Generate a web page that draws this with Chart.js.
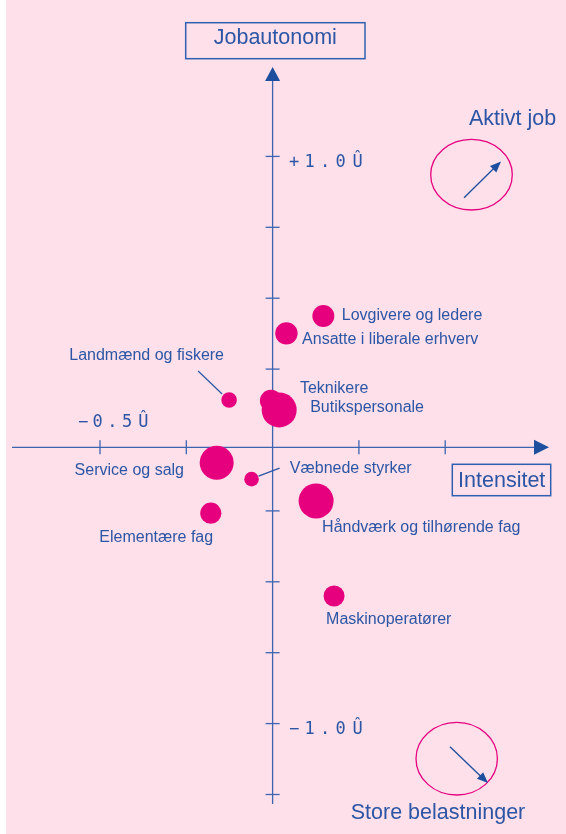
<!DOCTYPE html>
<html><head><meta charset="utf-8">
<script src="https://cdn.jsdelivr.net/npm/chart.js@4.4.1/dist/chart.umd.min.js"></script>
<style>html,body{margin:0;padding:0;background:#fde0ea;overflow:hidden}canvas{display:block}</style>
</head><body>
<canvas id="c" width="566" height="834"></canvas>
<script>
// ---- data ----
const categories = ['Lovgivere og ledere','Ansatte i liberale erhverv','Landmænd og fiskere','Teknikere','Butikspersonale','Service og salg','Væbnede styrker','Elementære fag','Håndværk og tilhørende fag','Maskinoperatører'];
const intensity  = [0.147, 0.040, -0.126, -0.005, 0.019, -0.162, -0.061, -0.179, 0.126, 0.178];
const autonomy   = [0.437, 0.376, 0.141, 0.138, 0.106, -0.080, -0.138, -0.258, -0.215, -0.550];
const bubbleSize = [11, 11.2, 7.8, 11, 17.5, 17, 7.3, 10.6, 17.5, 10.5];
const xTickValues = [-0.5, -0.25, 0.25, 0.5];
const yTickValues = [1.0, 0.75, 0.5, 0.25, -0.25, -0.5, -0.75, -1.0, -1.25];
const xTickLabelValues = [-0.5];
const xTickLabelTexts  = ['−0.5Û'];
const yTickLabelValues = [1.0, -1.0];
const yTickLabelTexts  = ['+1.0Û', '−1.0Û'];
const yAxisTitle = 'Jobautonomi';
const xAxisTitle = 'Intensitet';
const cornerTop = 'Aktivt job';
const cornerBottom = 'Store belastninger';

// ---- layout / style ----
const BG = '#fde0ea', BLUE = '#2c56a5', AXIS = '#3d65b0', ARROW = '#1d4f9e', MAG = '#e6007e';
const LABEL_FONT = '16px "Liberation Sans", Arial, sans-serif';
const TITLE_FONT = '21.5px "Liberation Sans", Arial, sans-serif';
const TICK_FONT = '17px "DejaVu Sans Mono", monospace';
const X_AXIS_AT = -0.026; // value on y where the horizontal axis is drawn
// label placement relative to bubble centre: [dx, dy, align]
const labelLayout = [[18.4,0,'left'],[15.7,6,'left'],[-5,-44,'right'],[29,-12,'left'],[31,-2,'left'],[-32.7,8,'right'],[38.3,-11,'left'],[2.3,24.5,'right'],[6,26.5,'left'],[-8,23.5,'left']];
const leaders = {2:[-31,-29,-7,-6], 6:[7,-3,28,-11]};

function arrowHead(ctx, x1, y1, x2, y2, len, half, color) {
  const a = Math.atan2(y2 - y1, x2 - x1);
  ctx.save();
  ctx.fillStyle = color;
  ctx.beginPath();
  ctx.moveTo(x2, y2);
  ctx.lineTo(x2 - len*Math.cos(a) + half*Math.sin(a), y2 - len*Math.sin(a) - half*Math.cos(a));
  ctx.lineTo(x2 - len*Math.cos(a) - half*Math.sin(a), y2 - len*Math.sin(a) + half*Math.cos(a));
  ctx.closePath();
  ctx.fill();
  ctx.restore();
}
function spacedText(ctx, text, x0, y, step) {
  ctx.textAlign = 'center';
  [...text].forEach((ch, i) => ctx.fillText(ch, x0 + i*step + (ch === 'Û' ? 1.5 : 0), y));
}

const bgPlugin = {
  id: 'bg',
  beforeDraw(chart) {
    const c = chart.ctx;
    c.save(); c.fillStyle = BG; c.fillRect(0, 0, chart.width, chart.height);
    c.fillStyle = '#ffffff'; c.fillRect(0, 0, 6, chart.height);
    c.restore();
  }
};

const axesPlugin = {
  id: 'axes',
  beforeDatasetsDraw(chart) {
    const c = chart.ctx, xs = chart.scales.x, ys = chart.scales.y;
    const ox = xs.getPixelForValue(0), oy = ys.getPixelForValue(X_AXIS_AT);
    c.save();
    c.strokeStyle = AXIS; c.lineWidth = 1.3;
    // vertical axis
    c.beginPath(); c.moveTo(ox, 804); c.lineTo(ox, 78); c.stroke();
    arrowHead(c, ox, 200, ox, 67, 14, 7.5, ARROW);
    // horizontal axis
    c.beginPath(); c.moveTo(12, oy); c.lineTo(536, oy); c.stroke();
    arrowHead(c, 300, oy, 549, oy, 15, 7.5, ARROW);
    // ticks
    yTickValues.forEach(v => { const p = ys.getPixelForValue(v); c.beginPath(); c.moveTo(ox-7, p); c.lineTo(ox+7, p); c.stroke(); });
    xTickValues.forEach(v => { const p = xs.getPixelForValue(v); c.beginPath(); c.moveTo(p, oy-7); c.lineTo(p, oy+7); c.stroke(); });
    // tick labels
    c.fillStyle = BLUE; c.font = TICK_FONT; c.textBaseline = 'middle';
    yTickLabelValues.forEach((v, i) => spacedText(c, yTickLabelTexts[i], ox + 21.5, ys.getPixelForValue(v) + 6, 15.5));
    xTickLabelValues.forEach((v, i) => spacedText(c, xTickLabelTexts[i], xs.getPixelForValue(v) - 17, oy - 24.5, 14.7));
    // axis titles in boxes
    c.font = TITLE_FONT; c.textBaseline = 'alphabetic'; c.textAlign = 'center';
    c.strokeStyle = '#3060b0'; c.lineWidth = 1.5;
    c.strokeRect(185.7, 22.7, 179.3, 36);
    c.fillText(yAxisTitle, 275.3, 44.3);
    c.strokeRect(452.3, 464.3, 98.4, 31.4);
    c.fillText(xAxisTitle, 501.7, 487);
    // corner notes
    c.fillText(cornerTop, 512.5, 125);
    c.fillText(cornerBottom, 438, 819.3);
    c.strokeStyle = MAG; c.lineWidth = 1.3;
    c.beginPath(); c.ellipse(471.5, 174.7, 40.8, 35.3, 0, 0, Math.PI*2); c.stroke();
    c.beginPath(); c.ellipse(456.7, 758.7, 40.7, 36.3, 0, 0, Math.PI*2); c.stroke();
    c.strokeStyle = ARROW; c.lineWidth = 1.3;
    c.beginPath(); c.moveTo(464, 197.7); c.lineTo(496, 166.3); c.stroke();
    arrowHead(c, 464, 197.7, 501, 161.5, 11, 4.5, ARROW);
    c.beginPath(); c.moveTo(450, 746.7); c.lineTo(482.5, 778); c.stroke();
    arrowHead(c, 450, 746.7, 488, 783, 11, 4.5, ARROW);
    c.restore();
  },
  afterDatasetsDraw(chart) {
    const c = chart.ctx, meta = chart.getDatasetMeta(0);
    c.save();
    c.font = LABEL_FONT; c.fillStyle = BLUE; c.textBaseline = 'middle';
    c.strokeStyle = '#2c56a5'; c.lineWidth = 1.2;
    meta.data.forEach((pt, i) => {
      const [dx, dy, al] = labelLayout[i];
      c.textAlign = al;
      let tx = pt.x + dx;
      if (i === 2) tx = 224;
      c.fillText(categories[i], tx, pt.y + dy);
      if (leaders[i]) {
        const l = leaders[i];
        c.beginPath(); c.moveTo(pt.x + l[0], pt.y + l[1]); c.lineTo(pt.x + l[2], pt.y + l[3]); c.stroke();
      }
    });
    c.restore();
  }
};

new Chart(document.getElementById('c').getContext('2d'), {
  type: 'bubble',
  data: {
    datasets: [{
      label: 'Erhvervsgrupper',
      data: categories.map((c, i) => ({ x: intensity[i], y: autonomy[i], r: bubbleSize[i] })),
      backgroundColor: MAG, borderWidth: 0, hoverRadius: 0
    }]
  },
  options: {
    responsive: false, animation: false, events: [],
    layout: { padding: 0, autoPadding: false },
    plugins: { legend: { display: false }, tooltip: { enabled: false } },
    scales: {
      x: { type: 'linear', min: -0.7897, max: 0.8499, display: false },
      y: { type: 'linear', min: -1.3893, max: 1.5515, display: false }
    }
  },
  plugins: [bgPlugin, axesPlugin]
});
</script>
</body></html>
